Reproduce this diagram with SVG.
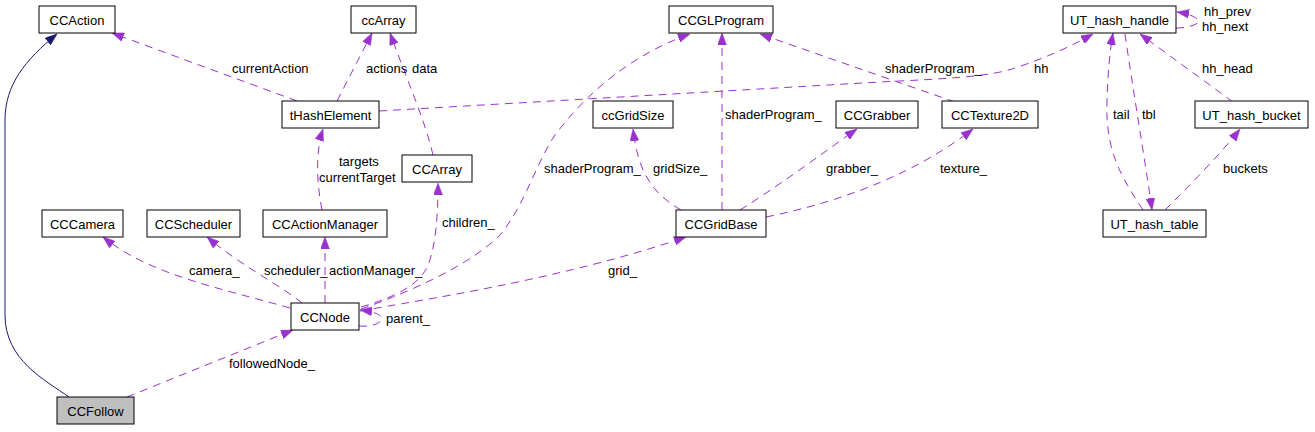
<svg xmlns="http://www.w3.org/2000/svg" width="1315" height="432" viewBox="0 0 1315 432">
<style>
.n rect{fill:#fff;stroke:#000;stroke-width:1}
.n text{font-family:"Liberation Sans",Arial,sans-serif;font-size:13px;text-anchor:middle;fill:#000}
.e path{fill:none;stroke:#9a32cd;stroke-width:1;stroke-dasharray:8,6}
.e path.inh{stroke:#191970;stroke-dasharray:none}
.l text{font-family:"Liberation Sans",Arial,sans-serif;font-size:13px;fill:#000}
</style>
<defs>
<marker id="ap" viewBox="0 0 12 9" refX="12" refY="4.5" markerWidth="12" markerHeight="9" orient="auto" markerUnits="userSpaceOnUse"><path d="M0,0 L12,4.5 L0,9 z" fill="#9a32cd" stroke="#9a32cd" stroke-width="0.5"/></marker>
<marker id="an" viewBox="0 0 12 9" refX="12" refY="4.5" markerWidth="12" markerHeight="9" orient="auto" markerUnits="userSpaceOnUse"><path d="M0,0 L12,4.5 L0,9 z" fill="#191970" stroke="#191970" stroke-width="0.5"/></marker>
</defs>
<rect width="1315" height="432" fill="#fff"/>
<g id="edges" class="e">
<path class="inh" d="M69,397 C45,380 5,360 5,315 L5,120 C5,85 25,60 57,34" marker-end="url(#an)"/>
<path d="M127,397 L293,330" marker-end="url(#ap)"/>
<path d="M290,308 C220,288 150,275 103,237" marker-end="url(#ap)"/>
<path d="M302,303 C280,285 240,265 207,237" marker-end="url(#ap)"/>
<path d="M325,303 L325,237" marker-end="url(#ap)"/>
<path d="M361,307 C395,297 420,285 428,265 C436,245 438,215 438,183" marker-end="url(#ap)"/>
<path d="M361,309 C410,292 470,265 500,235 C525,205 535,165 555,135 C585,95 630,55 690,34" marker-end="url(#ap)"/>
<path d="M360,311 C420,300 560,280 686,237" marker-end="url(#ap)"/>
<path d="M359,326 C370,327 380,324 382,319 C381,315 377,312 360,310" marker-end="url(#ap)"/>
<path d="M322,210 C316,180 316,150 323,129" marker-end="url(#ap)"/>
<path d="M297,101 L112,33" marker-end="url(#ap)"/>
<path d="M337,101 L372,33" marker-end="url(#ap)"/>
<path d="M433,155 C425,120 405,75 390,33" marker-end="url(#ap)"/>
<path d="M379,111 L880,82 C940,79 990,77 1015,68 C1045,58 1068,48 1093,34" marker-end="url(#ap)"/>
<path d="M955,102 L760,34" marker-end="url(#ap)"/>
<path d="M722,210 L722,33" marker-end="url(#ap)"/>
<path d="M681,210 C650,192 638,170 633,129" marker-end="url(#ap)"/>
<path d="M740,210 C780,185 820,155 857,129" marker-end="url(#ap)"/>
<path d="M766,217 C850,200 920,170 973,129" marker-end="url(#ap)"/>
<path d="M1143,210 C1120,175 1105,150 1107,100 C1108,70 1110,50 1113,33" marker-end="url(#ap)"/>
<path d="M1125,34 C1133,90 1145,160 1152,210" marker-end="url(#ap)"/>
<path d="M1233,102 L1140,34" marker-end="url(#ap)"/>
<path d="M1165,210 C1185,190 1220,155 1240,129" marker-end="url(#ap)"/>
<path d="M1176,28 C1186,28 1194,26 1199,22 C1197,17 1190,14 1177,12" marker-end="url(#ap)"/>
</g>
<g id="labels" class="l">
<text x="232" y="73">currentAction</text>
<text x="366" y="73">actions</text>
<text x="412" y="73">data</text>
<text x="1034" y="73">hh</text>
<text x="885" y="73">shaderProgram_</text>
<text x="1202" y="73">hh_head</text>
<text x="1204" y="16">hh_prev</text>
<text x="1202" y="31">hh_next</text>
<text x="725" y="119">shaderProgram_</text>
<text x="1113" y="119">tail</text>
<text x="1142" y="119">tbl</text>
<text x="339" y="166">targets</text>
<text x="319" y="182">currentTarget</text>
<text x="544" y="173">shaderProgram_</text>
<text x="653" y="173">gridSize_</text>
<text x="826" y="173">grabber_</text>
<text x="940" y="173">texture_</text>
<text x="1223" y="173">buckets</text>
<text x="442" y="227">children_</text>
<text x="189" y="275">camera_</text>
<text x="264" y="275">scheduler_</text>
<text x="329" y="275">actionManager_</text>
<text x="608" y="275">grid_</text>
<text x="386" y="323">parent_</text>
<text x="229" y="368">followedNode_</text>
</g>
<g id="CCAction" class="n"><rect x="39" y="6" width="76" height="27"/><text x="77" y="25">CCAction</text></g>
<g id="ccArray" class="n"><rect x="351" y="6" width="65" height="27"/><text x="383.5" y="25">ccArray</text></g>
<g id="CCGLProgram" class="n"><rect x="669" y="6" width="104" height="27"/><text x="721" y="25">CCGLProgram</text></g>
<g id="UT_hash_handle" class="n"><rect x="1063" y="6" width="113" height="27"/><text x="1119.5" y="25">UT_hash_handle</text></g>
<g id="tHashElement" class="n"><rect x="282" y="101" width="97" height="27"/><text x="330.5" y="120">tHashElement</text></g>
<g id="ccGridSize" class="n"><rect x="593" y="101" width="80" height="27"/><text x="633" y="120">ccGridSize</text></g>
<g id="CCGrabber" class="n"><rect x="836" y="101" width="82" height="27"/><text x="877" y="120">CCGrabber</text></g>
<g id="CCTexture2D" class="n"><rect x="942" y="101" width="96" height="27"/><text x="990" y="120">CCTexture2D</text></g>
<g id="UT_hash_bucket" class="n"><rect x="1195" y="101" width="113" height="27"/><text x="1251.5" y="120">UT_hash_bucket</text></g>
<g id="CCArray" class="n"><rect x="402" y="155" width="70" height="27"/><text x="437" y="174">CCArray</text></g>
<g id="CCCamera" class="n"><rect x="42" y="210" width="81" height="27"/><text x="82.5" y="229">CCCamera</text></g>
<g id="CCScheduler" class="n"><rect x="147" y="210" width="93" height="27"/><text x="193.5" y="229">CCScheduler</text></g>
<g id="CCActionManager" class="n"><rect x="263" y="210" width="124" height="27"/><text x="325" y="229">CCActionManager</text></g>
<g id="CCGridBase" class="n"><rect x="676" y="210" width="90" height="27"/><text x="721" y="229">CCGridBase</text></g>
<g id="UT_hash_table" class="n"><rect x="1103" y="210" width="103" height="27"/><text x="1154.5" y="229">UT_hash_table</text></g>
<g id="CCNode" class="n"><rect x="291" y="303" width="68" height="27"/><text x="325" y="322">CCNode</text></g>
<g id="CCFollow" class="n"><rect x="57" y="397" width="77" height="27" style="fill:#bfbfbf"/><text x="95.5" y="416">CCFollow</text></g>
</svg>
